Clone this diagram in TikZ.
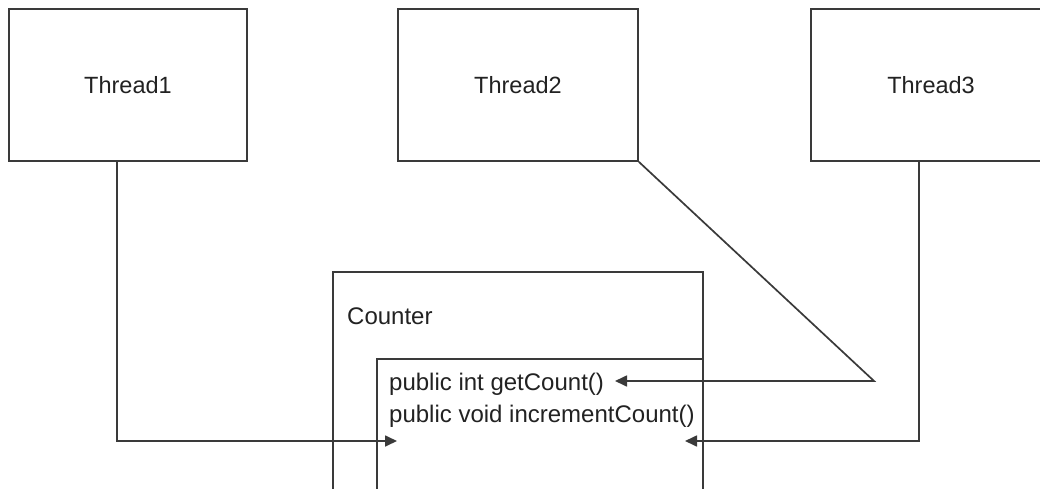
\documentclass[tikz,border=0pt]{standalone}
\usepackage{fontspec}
\setmainfont{Liberation Sans}
\usetikzlibrary{arrows.meta}
\definecolor{ink}{HTML}{3A3A3A}
\definecolor{txt}{HTML}{222222}
\tikzset{
  box/.style={draw=ink, line width=1.7pt, rectangle, inner sep=0pt},
  threadbox/.style={box, minimum width=240pt, minimum height=152pt, font=\fontsize{23.5}{27}\selectfont, text=txt},
  label/.style={anchor=base west, inner sep=0pt, font=\fontsize{24}{28}\selectfont, text=txt},
  link/.style={draw=ink, line width=1.7pt, -{Triangle[length=12pt,width=11pt]}},
}
\begin{document}
\begin{tikzpicture}[x=1pt, y=-1pt]
  \clip (0,0) rectangle (1040,489);
  \fill[white] (0,0) rectangle (1040,489);

  % thread boxes
  \node[threadbox, minimum width=238pt] (t1) at (128,85) {Thread1};
  \node[threadbox] (t2) at (518,85) {Thread2};
  \node[threadbox] (t3) at (931,85) {Thread3};

  % shared counter object and its method block (run past the lower edge)
  \node[box, minimum width=370pt, minimum height=238pt] (counter) at (518,391) {};
  \node[box, minimum width=326pt, minimum height=151pt] (methods) at (540,434.5) {};
  \node[label] (cname) at (347,324) {Counter};
  \node[label] (m1) at (389,390) {public int getCount()};
  \node[label] (m2) at (389,422) {public void incrementCount()};

  % call paths
  \coordinate (a1) at (397,441);
  \coordinate (a2) at (615,381);
  \coordinate (k2) at (874,381);
  \coordinate (a3) at (685,441);
  \draw[link] ([xshift=-11pt]t1.south) |- (a1);
  \draw[link] (t2.south east) -- (k2) -- (a2);
  \draw[link] ([xshift=-12pt]t3.south) |- (a3);
\end{tikzpicture}
\end{document}
